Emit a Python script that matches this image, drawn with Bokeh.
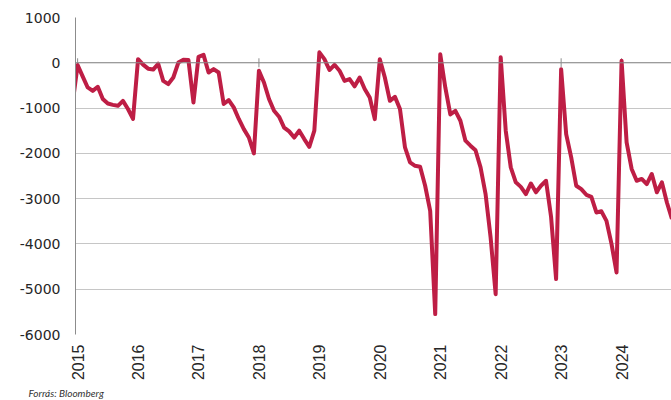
import pandas as pd
from math import pi
from bokeh.plotting import figure
from bokeh.models import FixedTicker, Span, Title
from bokeh.embed import file_html
from bokeh.resources import INLINE

# Monthly values, starting December 2014
values_2014 = [-900]
values_2015 = [-50, -300, -545, -620, -530, -800, -900, -930, -950, -840, -1020, -1240]
values_2016 = [80, -40, -130, -150, -20, -400, -470, -325, 5, 65, 60, -875]
values_2017 = [130, 175, -215, -140, -215, -910, -825, -985, -1240, -1465, -1650, -2000]
values_2018 = [-175, -435, -800, -1060, -1190, -1430, -1515, -1650, -1500, -1685, -1855, -1500]
values_2019 = [230, 80, -160, -45, -175, -400, -360, -520, -325, -580, -765, -1245]
values_2020 = [80, -325, -840, -750, -1020, -1870, -2200, -2275, -2295, -2715, -3270, -5550]
values_2021 = [190, -545, -1140, -1060, -1280, -1720, -1830, -1930, -2310, -2900, -3860, -5110]
values_2022 = [120, -1500, -2310, -2640, -2740, -2900, -2665, -2860, -2715, -2605, -3400, -4775]
values_2023 = [-140, -1575, -2090, -2715, -2790, -2915, -2960, -3305, -3280, -3490, -4000, -4630]
values_2024 = [45, -1760, -2345, -2605, -2565, -2680, -2455, -2860, -2640, -3085, -3450]

values = (values_2014 + values_2015 + values_2016 + values_2017 + values_2018 +
          values_2019 + values_2020 + values_2021 + values_2022 + values_2023 + values_2024)
dates = pd.date_range("2014-12-01", periods=len(values), freq="MS")
xs = list(dates.year + (dates.month - 1) / 12)

year_ticks = list(range(2015, 2025))
year_labels = [str(y) for y in year_ticks]
y_ticks = list(range(-6000, 1001, 1000))
y_tick_labels = [str(v) for v in y_ticks]
source_text = "Forrás: Bloomberg"

p = figure(width=671, height=400, x_range=(2014.965, 2024.826), y_range=(-6000, 1000),
           output_backend="svg", toolbar_location=None,
           min_border_left=75, min_border_right=0, min_border_top=17, min_border_bottom=66)
p.outline_line_color = None
p.background_fill_color = "white"

# y axis
p.yaxis.ticker = FixedTicker(ticks=y_ticks)
p.yaxis.major_label_overrides = dict(zip(y_ticks, y_tick_labels))
p.yaxis.axis_line_color = "#8c8c8c"
p.yaxis.major_tick_out = 0
p.yaxis.major_tick_in = 0
p.yaxis.minor_tick_line_color = None
p.yaxis.major_label_text_font = "DejaVu Sans"
p.yaxis.major_label_text_font_size = "14px"
p.yaxis.major_label_text_color = "#262626"
p.yaxis.major_label_standoff = 15

# x axis
p.xaxis.ticker = FixedTicker(ticks=year_ticks)
p.xaxis.major_label_overrides = dict(zip(year_ticks, year_labels))
p.xaxis.axis_line_color = None
p.xaxis.major_tick_line_color = None
p.xaxis.major_tick_out = 0
p.xaxis.major_tick_in = 0
p.xaxis.minor_tick_line_color = None
p.xaxis.minor_tick_out = 0
p.xaxis.major_label_orientation = pi / 2
p.xaxis.major_label_text_font = "Liberation Sans"
p.xaxis.major_label_text_font_size = "16px"
p.xaxis.major_label_text_color = "#262626"
p.xaxis.major_label_standoff = 10

# grid
p.xgrid.grid_line_color = None
p.ygrid.ticker = FixedTicker(ticks=y_ticks)
p.ygrid.grid_line_color = "#c6c6c6"
p.ygrid.grid_line_width = 1

p.add_layout(Span(location=0, dimension="width", line_color="#8c8c8c", line_width=1))
p.scatter(x=year_ticks, y=[0] * len(year_ticks), marker="dash", angle=pi / 2, size=9,
          line_color="#8c8c8c", line_width=1)

p.line(xs, values, line_color="#be1e45", line_width=4, line_join="round")

p.add_layout(Title(text=source_text, align="left", offset=-47, standoff=3,
                   text_font="Lato", text_font_style="italic", text_font_size="10px",
                   text_color="#333333"), "below")

open("out.html", "w").write(file_html(p, INLINE))
